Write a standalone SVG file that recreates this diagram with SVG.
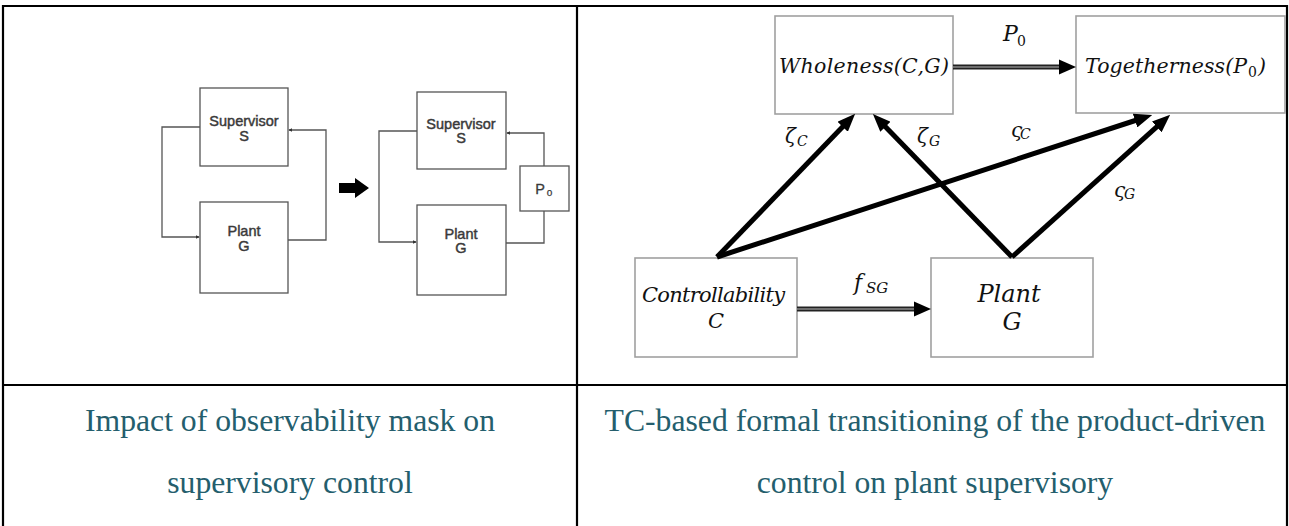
<svg xmlns="http://www.w3.org/2000/svg" width="1289" height="526" viewBox="0 0 1289 526">
<style>
.tbl{stroke:#000;stroke-width:2.2;fill:none}
.lbox{fill:#fff;stroke:#555;stroke-width:1.3}
.lline{fill:none;stroke:#555;stroke-width:1.3}
.ltxt{font-family:"Liberation Sans",Arial,sans-serif;font-size:14.5px;fill:#3a3a3a;text-anchor:middle;stroke:#3a3a3a;stroke-width:0.45}
.rbox{fill:#fff;stroke:#a0a0a0;stroke-width:1.6}
.math{font-family:"DejaVu Serif",serif;font-style:italic;fill:#111}
.sub{font-family:"DejaVu Serif",serif;font-style:italic;fill:#111}
.num{font-family:"DejaVu Serif",serif;fill:#111}
.thick{fill:none;stroke:#000;stroke-width:5}
.cap{font-family:"Liberation Serif","Times New Roman",serif;font-size:31.7px;fill:#245e6d;text-anchor:middle}
</style>
<defs>
<marker id="sm" viewBox="0 0 6 6" refX="5" refY="3" markerWidth="4" markerHeight="4" markerUnits="userSpaceOnUse" orient="auto"><path d="M0,0 L6,3 L0,6 z" fill="#333"/></marker>
<marker id="big" viewBox="0 0 10 8" refX="1" refY="4" markerWidth="3.6" markerHeight="2.88" orient="auto"><path d="M0,0 L10,4 L0,8 z" fill="#000"/></marker>
</defs>
<rect width="1289" height="526" fill="#fff"/>
<g id="table">
<path class="tbl" d="M3,6 H1287 M3,385 H1287 M3,5 V526 M577,6 V526 M1287,5 V526"/>
</g>
<g id="left-diagram-a">
<g id="supervisor-a"><rect class="lbox" x="200" y="88" width="88" height="78"/><text class="ltxt" x="244" y="126">Supervisor</text><text class="ltxt" x="244" y="141">S</text></g>
<g id="plant-a"><rect class="lbox" x="200" y="202" width="88" height="91"/><text class="ltxt" x="244" y="236">Plant</text><text class="ltxt" x="244" y="251">G</text></g>
</g>
<g id="left-diagram-b">
<g id="supervisor-b"><rect class="lbox" x="417" y="92" width="89" height="77"/><text class="ltxt" x="461" y="129">Supervisor</text><text class="ltxt" x="461" y="143">S</text></g>
<g id="plant-b"><rect class="lbox" x="417" y="205" width="89" height="90"/><text class="ltxt" x="461" y="239">Plant</text><text class="ltxt" x="461" y="253">G</text></g>
<g id="po"><rect class="lbox" x="520" y="166" width="49" height="45"/><text class="ltxt" x="540" y="194" style="stroke-width:0.3">P</text><text class="ltxt" x="549.5" y="196" style="font-size:10px;stroke-width:0.25">o</text></g>
</g>
<g id="left-connectors">
<path class="lline" d="M200,127 H162 V237 H199" marker-end="url(#sm)"/>
<path class="lline" d="M288,240 H326 V130 H289" marker-end="url(#sm)"/>
<path class="lline" d="M417,131 H379 V242 H416" marker-end="url(#sm)"/>
<path class="lline" d="M544,166 V133 H507" marker-end="url(#sm)"/>
<path class="lline" d="M544,211 V243 H506"/>
<path d="M339,183 H355 V178 L369,188 L355,198 V193 H339 Z" fill="#000"/>
</g>
<g id="wholeness"><rect class="rbox" x="775" y="16" width="178" height="98"/><text class="math" x="779" y="73" font-size="20.5" textLength="170" lengthAdjust="spacing">Wholeness(C,G)</text></g>
<g id="togetherness"><rect class="rbox" x="1076" y="16" width="209" height="97"/><text class="math" x="1085" y="73" font-size="20.5" textLength="162" lengthAdjust="spacing">Togetherness(P</text><text class="num" x="1248" y="77" font-size="14">0</text><text class="math" x="1258" y="73" font-size="20.5">)</text></g>
<g id="controllability"><rect class="rbox" x="635" y="258" width="162" height="99"/><text class="math" x="642" y="302" font-size="21" textLength="143" lengthAdjust="spacing">Controllability</text><text class="math" x="716" y="328" font-size="21" text-anchor="middle">C</text></g>
<g id="plant"><rect class="rbox" x="931" y="258" width="162" height="99"/><text class="math" x="1009" y="302" font-size="24" text-anchor="middle">Plant</text><text class="math" x="1012" y="330" font-size="24" text-anchor="middle">G</text></g>
<g id="right-connectors">
<path d="M953,67 H1061" stroke="#222" stroke-width="5" fill="none"/>
<path d="M953,67 H1061" stroke="#888" stroke-width="1.3" fill="none"/>
<path d="M1059,59.5 L1076,67 L1059,74.5 Z" fill="#000"/>
<path d="M797,309 H916" stroke="#222" stroke-width="5" fill="none"/>
<path d="M797,309 H916" stroke="#888" stroke-width="1.3" fill="none"/>
<path d="M914,301.5 L931,309 L914,316.5 Z" fill="#000"/>
<path class="thick" d="M717,257 L843.9,125.5" marker-end="url(#big)"/>
<path class="thick" d="M717,257 L1136.8,120" marker-end="url(#big)"/>
<path class="thick" d="M1012,257 L884.2,125.5" marker-end="url(#big)"/>
<path class="thick" d="M1012,257 L1158.1,125.7" marker-end="url(#big)"/>
</g>
<g id="edge-labels">
<text class="math" x="1003" y="41" font-size="22">P</text><text class="num" x="1017" y="46" font-size="14">0</text>
<text class="math" x="854" y="290" font-size="22">f</text><text class="sub" x="866" y="293" font-size="15">SG</text>
<text class="math" x="785" y="143" font-size="20">ζ</text><text class="sub" x="797" y="146" font-size="14">C</text>
<text class="math" x="917" y="143" font-size="20">ζ</text><text class="sub" x="929" y="146" font-size="14">G</text>
<text class="math" x="1011" y="137" font-size="20">ς</text><text class="sub" x="1020" y="139" font-size="14">C</text>
<text class="math" x="1114" y="197" font-size="20">ς</text><text class="sub" x="1124" y="199" font-size="14">G</text>
</g>
<g id="captions">
<text class="cap" x="290" y="431">Impact of observability mask on</text>
<text class="cap" x="290" y="493">supervisory control</text>
<text class="cap" x="935" y="431">TC-based formal transitioning of the product-driven</text>
<text class="cap" x="935" y="493">control on plant supervisory</text>
</g>
</svg>
